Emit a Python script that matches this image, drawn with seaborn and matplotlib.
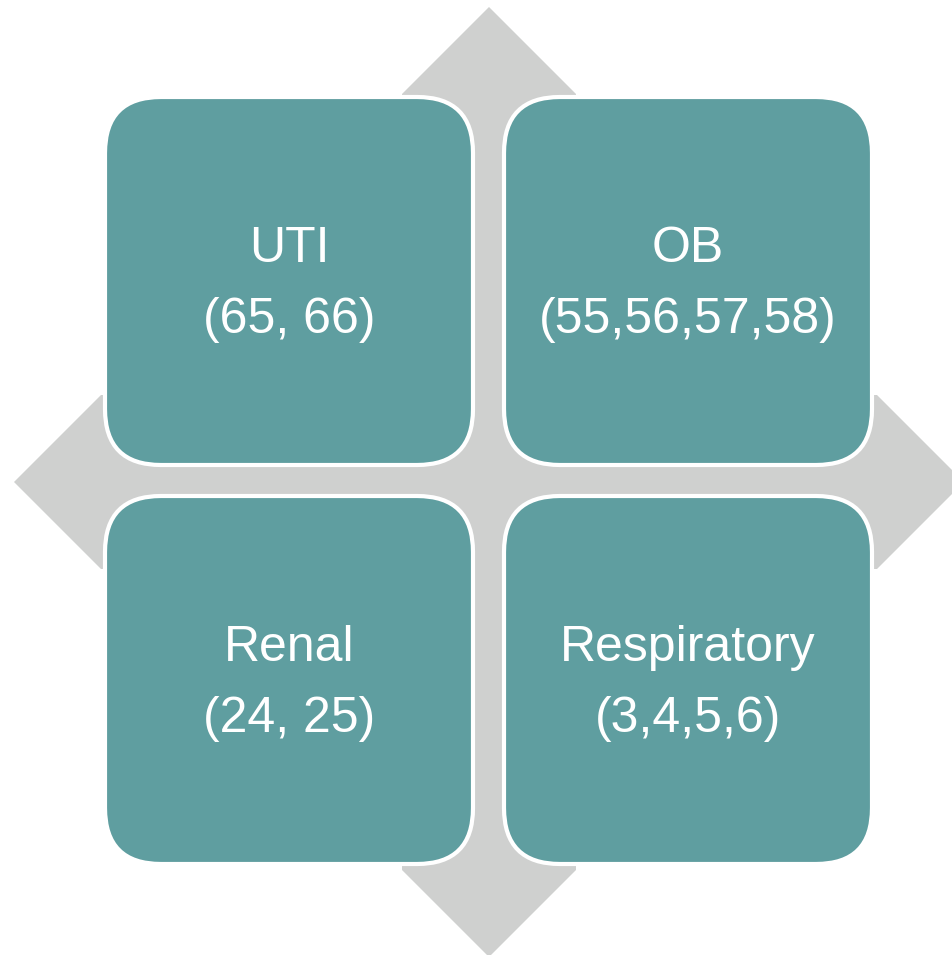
import matplotlib.pyplot as plt
import seaborn as sns
from matplotlib.patches import FancyBboxPatch, Polygon

# diagram content
titles = ["UTI", "OB", "Renal", "Respiratory"]
codes = ["(65, 66)", "(55,56,57,58)", "(24, 25)", "(3,4,5,6)"]

# box centres in pixel space (col, row)
centres_x = [289, 688, 289, 688]
centres_y = [281, 281, 680, 680]

sns.set_theme(style="white")
plt.rcParams['font.family'] = ['Liberation Sans', 'DejaVu Sans']

teal = "#5F9EA0"
grey = "#CFD0CF"

fig = plt.figure(figsize=(9.53, 9.55), dpi=100)
ax = fig.add_axes([0, 0, 1, 1])
ax.set_xlim(0, 953)
ax.set_ylim(955, 0)
ax.axis("off")

# four-way arrow behind the boxes
cx, cy = 489, 482
half = 87
arm = 388
arrow = [
    (cx, cy - arm - half), (cx + half, cy - arm), (cx + half, cy - half),
    (cx + arm, cy - half), (cx + arm + half, cy), (cx + arm, cy + half),
    (cx + half, cy + half), (cx + half, cy + arm), (cx, cy + arm + half),
    (cx - half, cy + arm), (cx - half, cy + half), (cx - arm, cy + half),
    (cx - arm - half, cy), (cx - arm, cy - half), (cx - half, cy - half),
    (cx - half, cy - arm),
]
ax.add_patch(Polygon(arrow, closed=True, facecolor=grey, edgecolor="none", zorder=1))

size = 368
for title, code, x, y in zip(titles, codes, centres_x, centres_y):
    box = FancyBboxPatch((x - size / 2, y - size / 2), size, size,
                         boxstyle="round,pad=0,rounding_size=56",
                         facecolor=teal, edgecolor="white", linewidth=3, zorder=2)
    ax.add_patch(box)
    ax.text(x, y - 19, title, ha="center", va="baseline", color="white",
            fontsize=36, zorder=3)
    ax.text(x, y + 52, code, ha="center", va="baseline", color="white",
            fontsize=36, zorder=3)

fig.savefig("out.png", dpi=100)
